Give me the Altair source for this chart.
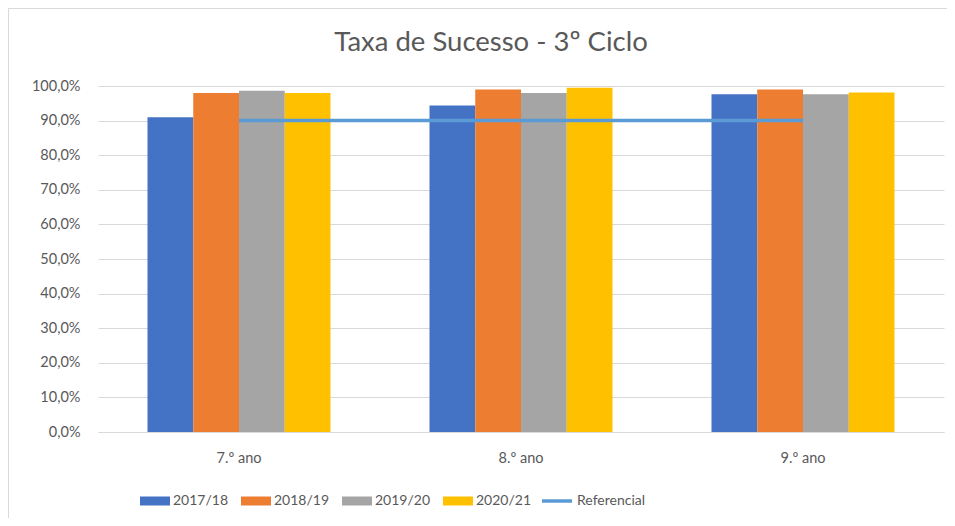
import altair as alt
import pandas as pd

categories = ["7.º ano", "8.º ano", "9.º ano"]
years = ["2017/18", "2018/19", "2019/20", "2020/21"]
v_2017 = [91.0, 94.4, 97.6]
v_2018 = [98.0, 99.0, 99.0]
v_2019 = [98.6, 98.0, 97.6]
v_2020 = [98.0, 99.5, 98.1]
referencial = [90.0, 90.0, 90.0]
bar_colors = ["#4472C4", "#ED7D31", "#A5A5A5", "#FFC000"]
line_color = "#5B9BD5"

series = [v_2017, v_2018, v_2019, v_2020]
rows = []
for y, vals in zip(years, series):
    for c, v in zip(categories, vals):
        rows.append({"ano": c, "serie": y, "valor": v / 100})
bars_df = pd.DataFrame(rows)
ref_df = pd.DataFrame({"ano": categories, "serie": ["Referencial"] * 3,
                       "valor": [v / 100 for v in referencial]})

FONT = "Lato"
TXT = "#595959"
W, H = 846, 346

xscale = alt.Scale(domain=categories, paddingInner=0.351, paddingOuter=0.1755)
xaxis = alt.Axis(title=None, labelAngle=0, ticks=False, domainColor="#d9d9d9",
                 labelFontSize=14.5, labelColor=TXT, labelPadding=19, grid=False)
yscale = alt.Scale(domain=[0, 1], nice=False)
yaxis = alt.Axis(title=None, values=[i / 10 for i in range(11)], domain=False, ticks=False,
                 labelExpr="replace(format(datum.value, '.1%'), '.', ',')",
                 labelOverlap=False,
                 labelFontSize=14.5, labelColor=TXT, labelPadding=18,
                 gridColor="#d9d9d9", gridWidth=1)

bars = alt.Chart(bars_df).mark_bar().encode(
    x=alt.X("ano:N", scale=xscale, sort=categories, axis=xaxis),
    xOffset=alt.XOffset("serie:N", sort=years, scale=alt.Scale(paddingInner=0, paddingOuter=0)),
    y=alt.Y("valor:Q", scale=yscale, axis=yaxis),
    color=alt.Color("serie:N", sort=years,
                    scale=alt.Scale(domain=years, range=bar_colors),
                    legend=alt.Legend(title=None, orient="none", direction="horizontal",
                                      legendX=42, legendY=400,
                                      symbolType="M-1,-0.3H1V0.3H-1Z", symbolSize=900,
                                      symbolStrokeWidth=0, labelFontSize=14, labelColor=TXT,
                                      labelOffset=3, columnPadding=12)),
)

line = alt.Chart(ref_df).mark_line(strokeWidth=3.5).encode(
    x=alt.X("ano:N", scale=xscale, sort=categories, axis=xaxis),
    y=alt.Y("valor:Q", scale=yscale, axis=yaxis),
    stroke=alt.Stroke("serie:N", scale=alt.Scale(domain=["Referencial"], range=[line_color]),
                      legend=alt.Legend(title=None, orient="none", direction="horizontal",
                                        legendX=442, legendY=398, symbolType="stroke",
                                        symbolSize=900, symbolStrokeWidth=3.5,
                                        labelFontSize=14, labelColor=TXT, labelOffset=3)),
)

frame = alt.Chart(pd.DataFrame({"f": [0]})).mark_rect(fill="transparent", stroke="#d9d9d9", strokeWidth=1).encode(
    x=alt.value(-89.5), x2=alt.value(W + 50), y=alt.value(-77.5), y2=alt.value(H + 150)
)

chart = alt.layer(frame, bars, line).resolve_scale(color="independent").properties(
    width=W, height=H,
    autosize="none",
    padding={"left": 90, "top": 78, "right": 3, "bottom": 86},
    title=alt.TitleParams("Taxa de Sucesso - 3º Ciclo", fontSize=27.5, font=FONT, color=TXT,
                          fontWeight="normal", anchor="middle", dx=-30, offset=0, dy=48),
).configure(font=FONT, background="white").configure_view(stroke=None)

chart.save("out.html", embed_options={"renderer": "svg", "actions": False})
